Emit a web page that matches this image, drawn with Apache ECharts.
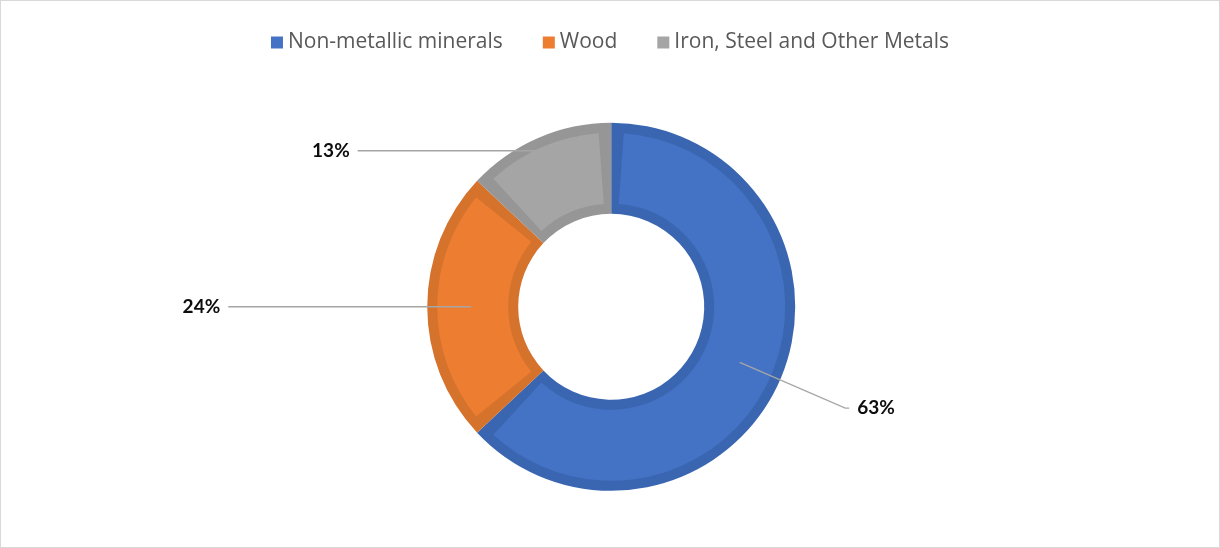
<!DOCTYPE html>
<html>
<head>
<meta charset="utf-8">
<script src="https://cdn.jsdelivr.net/npm/echarts@6/dist/echarts.min.js"></script>
<style>
  html, body { margin: 0; padding: 0; background: #fff; }
  #frame { width: 1220px; height: 548px; box-sizing: border-box; border: 1px solid #d9d9d9; }
  #chart { width: 1218px; height: 546px; }
</style>
</head>
<body>
<div id="frame"><div id="chart"></div></div>
<script>
const categories = ['Non-metallic minerals', 'Wood', 'Iron, Steel and Other Metals'];
const values = [63, 24, 13];
const fillColors = ['#4472C4', '#ED7D31', '#A5A5A5'];
const edgeColors = ['#3A66B1', '#D5722C', '#969696'];
const lineLengths = [115, 233, 30];
const lineLengths2 = [4, 10, 186];

const chart = echarts.init(document.getElementById('chart'));
const legendFont = '"Open Sans", Lato, sans-serif';
const labelFont = 'Lato, "Open Sans", sans-serif';

const center = ['50.1%', '56%'];

const option = {
  animation: false,
  legend: {
    top: 26,
    left: 'center',
    icon: 'rect',
    itemWidth: 12,
    itemHeight: 12,
    itemGap: 40,
    textStyle: { fontFamily: legendFont, fontSize: 21, color: '#595959' },
    data: categories.map((c, i) => ({ name: c, itemStyle: { color: fillColors[i] } }))
  },
  series: [
    {
      type: 'pie',
      center: center,
      radius: [93, 184],
      startAngle: 90,
      clockwise: true,
      silent: true,
      label: { show: false },
      labelLine: { show: false },
      z: 1,
      data: categories.map((c, i) => ({ name: c, value: values[i], itemStyle: { color: edgeColors[i] } }))
    },
    {
      type: 'pie',
      center: center,
      radius: [103, 174],
      startAngle: 90,
      clockwise: true,
      padAngle: 8.3,
      silent: true,
      label: { show: false },
      labelLine: { show: false },
      z: 2,
      data: categories.map((c, i) => ({ name: c, value: values[i], itemStyle: { color: fillColors[i] } }))
    },
    {
      type: 'pie',
      center: center,
      radius: [0, 140],
      startAngle: 90,
      clockwise: true,
      silent: true,
      percentPrecision: 0,
      z: 3,
      itemStyle: { color: 'rgba(0,0,0,0)' },
      label: {
        show: true,
        position: 'outside',
        formatter: '{d}%',
        fontFamily: labelFont,
        fontSize: 19,
        fontWeight: 'bold',
        color: '#0d0d0d',
        distanceToLabelLine: 8
      },
      labelLine: {
        show: true,
        smooth: false,
        lineStyle: { color: '#A6A6A6', width: 1.3 }
      },
      data: categories.map((c, i) => ({
        name: c,
        value: values[i],
        labelLine: { length: lineLengths[i], length2: lineLengths2[i] }
      }))
    }
  ]
};
chart.setOption(option);
</script>
</body>
</html>
